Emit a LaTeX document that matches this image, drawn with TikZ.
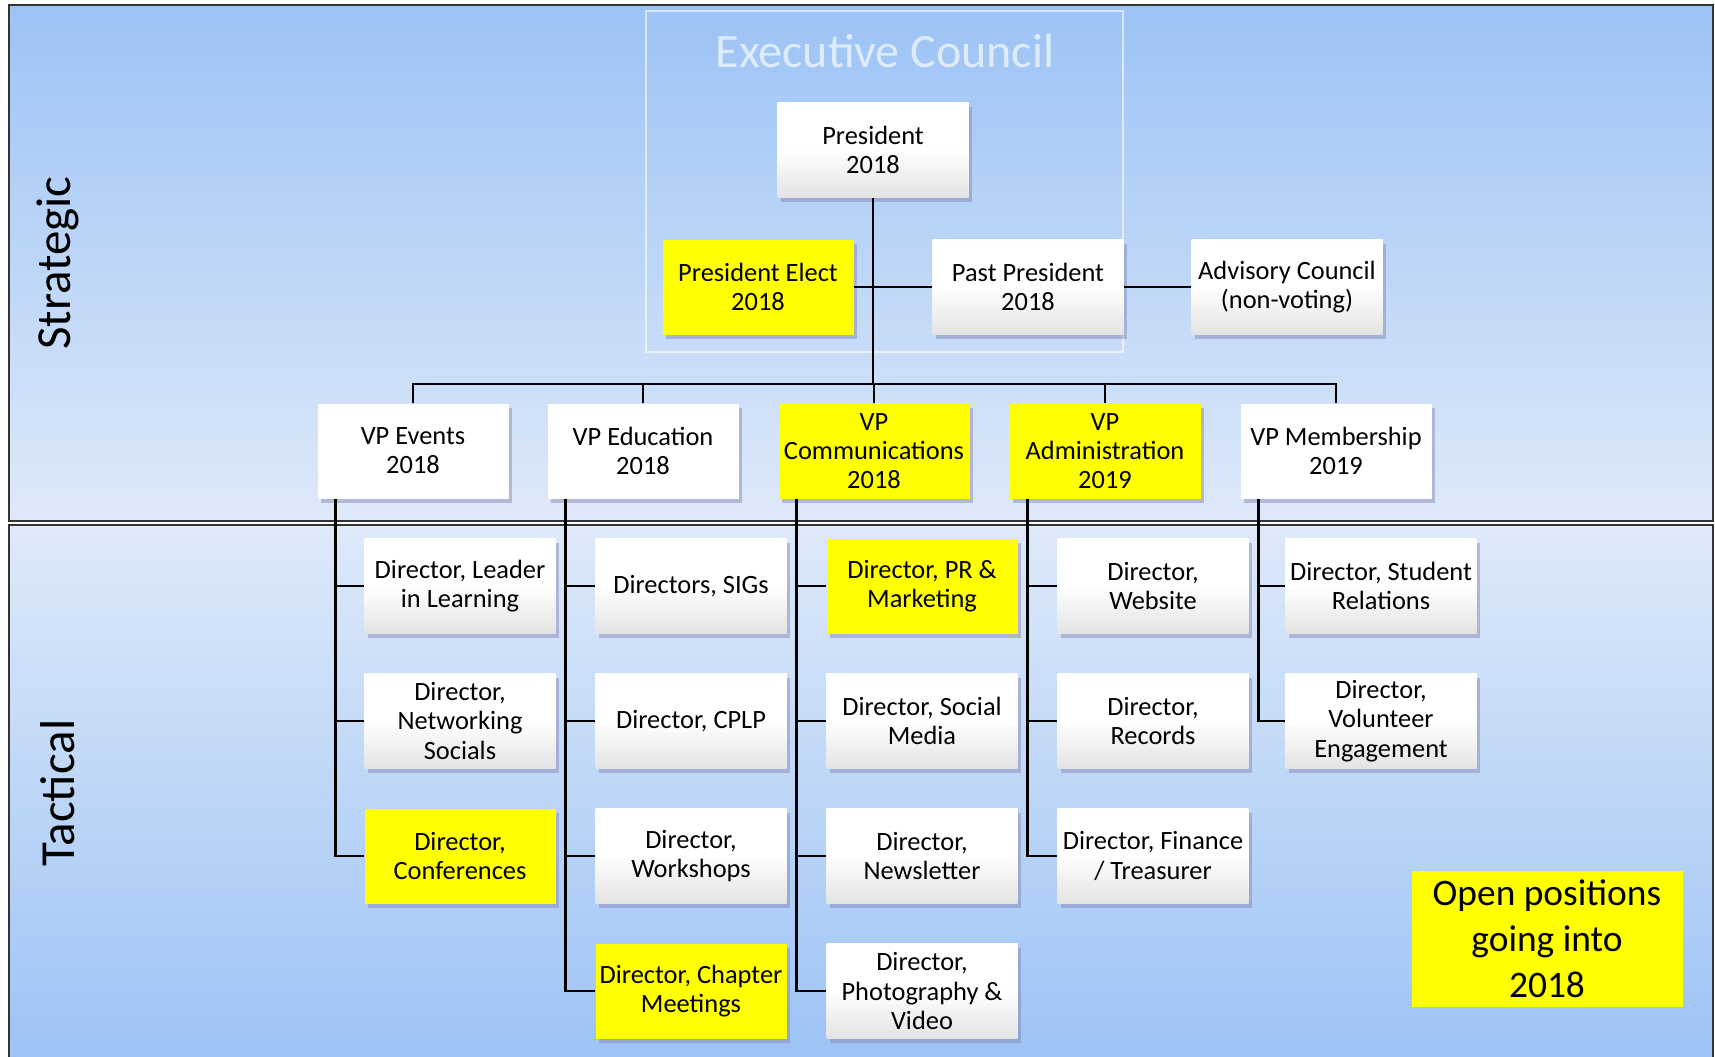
\documentclass[tikz,border=0pt]{standalone}
\usepackage{fontspec}
\setmainfont{Carlito}
\usepackage{tikz}
\usetikzlibrary{calc,shadows,backgrounds}

\definecolor{skyblue}{HTML}{9CC3F5}
\definecolor{paleblue}{HTML}{DEE9F9}
\definecolor{openyellow}{HTML}{FFFF00}

\tikzset{
  unit/.style={rectangle,inner sep=0pt,align=center,minimum width=95.5pt,minimum height=47.5pt,
    font=\fontsize{13.2}{14.6}\selectfont,
    drop shadow={shadow xshift=1.5pt,shadow yshift=-2pt,fill=black!60!blue!50,opacity=0.45}},
  shaded unit/.style={unit,top color=white,bottom color=black!11,middle color=white},
  plain unit/.style={unit,fill=white},
  open unit/.style={unit,fill=openyellow},
  conn/.style={line width=1.3pt,black},
  tier/.style={font=\fontsize{24.5}{28}\selectfont,rotate=90}
}

\begin{document}
\begin{tikzpicture}[x=0.5pt,y=-0.5pt]
                 \useasboundingbox (0,0) rectangle (1715,1056);
                 \shade[top color=skyblue,bottom color=paleblue,draw=black!80,line width=0.6pt] (9,5) rectangle (1713,521);
                 \shade[top color=paleblue,bottom color=skyblue,draw=black!80,line width=0.6pt] (9,525) rectangle (1713,1062);
                 \node[tier](strat) at (58,263) {Strategic};
                 \node[tier](tact) at (58,793) {Tactical};
                 \draw[white,opacity=0.6,line width=1pt] (646,11) rectangle (1123,352);
                 \node[text=white,opacity=0.65,font=\fontsize{24}{28}\selectfont](exec) at (885,51) {Executive Council};

                 \node[shaded unit](pres) at (873,150) {President\\2018};
                 \node[open unit](pelect) at (758,287) {President Elect\\2018};
                 \node[shaded unit](past) at (1028,287) {Past President\\2018};
                 \node[shaded unit](adv) at (1287,287) {Advisory Council\\(non-voting)};

                 \node[plain unit](vpev) at (413,451) {VP Events\\2018};
                 \node[plain unit](vped) at (643,451) {VP Education\\2018};
                 \node[open unit](vpcom) at (874,451) {VP\\Communications\\2018};
                 \node[open unit](vpadm) at (1105,451) {VP\\Administration\\2019};
                 \node[plain unit](vpmem) at (1336,451) {VP Membership\\2019};

                 \node[shaded unit](ev1) at (460,586) {Director, Leader\\in Learning};
                 \node[shaded unit](ev2) at (460,721) {Director,\\Networking\\Socials};
                 \node[open unit](ev3) at (460,856) {Director,\\Conferences};

                 \node[shaded unit](ed1) at (691,586) {Directors, SIGs};
                 \node[shaded unit](ed2) at (691,721) {Director, CPLP};
                 \node[shaded unit](ed3) at (691,856) {Director,\\Workshops};
                 \node[open unit](ed4) at (691,991) {Director, Chapter\\Meetings};

                 \node[open unit](co1) at (922,586) {Director, PR \&\\Marketing};
                 \node[shaded unit](co2) at (922,721) {Director, Social\\Media};
                 \node[shaded unit](co3) at (922,856) {Director,\\Newsletter};
                 \node[shaded unit](co4) at (922,991) {Director,\\Photography \&\\Video};

                 \node[shaded unit](ad1) at (1153,586) {Director,\\Website};
                 \node[shaded unit](ad2) at (1153,721) {Director,\\Records};
                 \node[shaded unit](ad3) at (1153,856) {Director, Finance\\/ Treasurer};

                 \node[shaded unit](me1) at (1381,586) {Director, Student\\Relations};
                 \node[shaded unit](me2) at (1381,721) {Director,\\Volunteer\\Engagement};

                 \node[fill=openyellow,minimum width=135.5pt,minimum height=68pt,inner sep=0pt,align=center,
                       font=\fontsize{18.7}{23}\selectfont](legend) at (1547,939) {Open positions\\going into\\2018};

                 \coordinate (bus) at (873,384);
                 \draw[conn] (pres.south) -- (bus);
                 \draw[conn] (pelect.east) -- (past.west);
                 \draw[conn] (past.east) -- (adv.west);
                 \draw[conn] (vpev.north) |- (bus) -| (vpmem.north);
                 \foreach \v in {vped,vpcom,vpadm}
                   \draw[conn] (\v.north) -- (\v.north |- bus);
                 \foreach \c in {ev1,ev2,ev3}
                   \draw[conn] ([xshift=9.3pt]vpev.south west) |- (\c.west);
                 \foreach \c in {ed1,ed2,ed3,ed4}
                   \draw[conn] ([xshift=9.3pt]vped.south west) |- (\c.west);
                 \foreach \c in {co1,co2,co3,co4}
                   \draw[conn] ([xshift=9.3pt]vpcom.south west) |- (\c.west);
                 \foreach \c in {ad1,ad2,ad3}
                   \draw[conn] ([xshift=9.3pt]vpadm.south west) |- (\c.west);
                 \foreach \c in {me1,me2}
                   \draw[conn] ([xshift=9.3pt]vpmem.south west) |- (\c.west);
\end{tikzpicture}
\end{document}
